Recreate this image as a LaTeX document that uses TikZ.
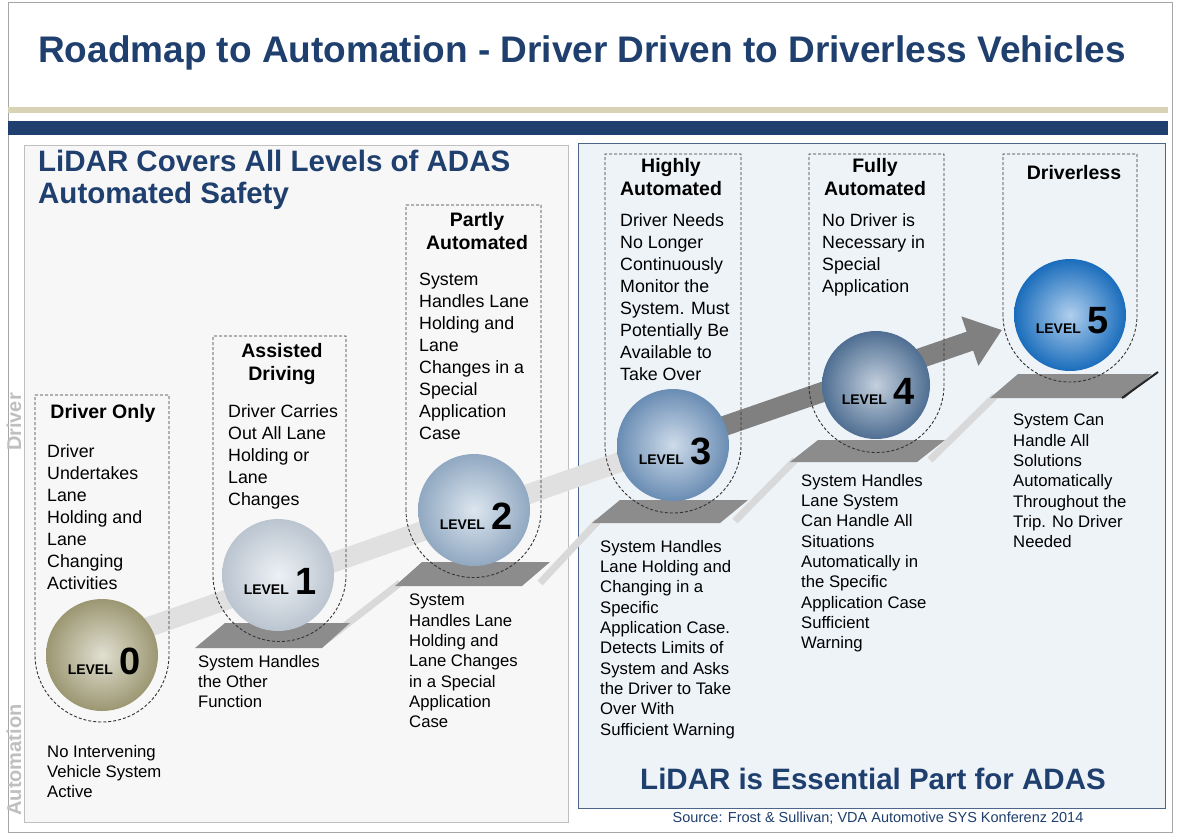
\documentclass[tikz,border=0pt]{standalone}
\usepackage{fontspec}
\setmainfont{Liberation Sans}
\usetikzlibrary{arrows.meta,shapes.geometric}
\definecolor{navy}{HTML}{1F3F6E}
\definecolor{tan}{HTML}{D8D3B5}
\definecolor{panelA}{HTML}{F7F7F7}
\definecolor{panelB}{HTML}{EEF3F8}
\definecolor{c0}{HTML}{A9A47C}
\definecolor{c1}{HTML}{CBD6E2}
\definecolor{c2}{HTML}{9DB7D2}
\definecolor{c3}{HTML}{7399C3}
\definecolor{c4}{HTML}{56789F}
\definecolor{c5}{HTML}{1C76CC}
\begin{document}
\begin{tikzpicture}[x=1pt,y=-1pt,
  ttl/.style={anchor=north,align=center,inner sep=0pt,font=\fontsize{19.5}{23}\selectfont\bfseries},
  txt/.style={anchor=north west,align=left,inner sep=0pt,font=\fontsize{17.8}{22}\selectfont},
  low/.style={anchor=north west,align=left,inner sep=0pt,font=\fontsize{16.7}{20.3}\selectfont},
  head/.style={anchor=north west,align=left,inner sep=0pt,text=navy,font=\fontsize{29.5}{32}\selectfont\bfseries},
  ball/.style={circle,minimum size=112pt,inner sep=0pt,draw=none,shading=radial,
    inner color=#1!35!white,outer color=#1!92!black},
  box/.style={draw=black!80,dash pattern=on 3pt off 2pt,line width=0.9pt},
  stair/.style={fill=black!45,draw=none},
  rise/.style={draw=black!15,line width=7pt}]
\useasboundingbox (0,0) rectangle (1177,836);
\fill[white] (0,0) rectangle (1177,836);
\draw[black!35,line width=1pt] (8,2) rectangle (1172,832);
\node[anchor=center,text=navy,font=\fontsize{37}{40}\selectfont\bfseries] (title) at (582,53) {Roadmap to Automation - Driver Driven to Driverless Vehicles};
\fill[tan] (8,107) rectangle (1168,113);
\fill[navy] (8,121) rectangle (1168,135);
% panels
\draw[fill=panelA,draw=black!25] (24,145) rectangle (568,822);
\draw[fill=panelB,draw=navy!80,line width=1pt] (578,143) rectangle (1165,808);
\node[head] (lhead) at (38,150) {LiDAR Covers All Levels of ADAS\\Automated Safety};
\node[text=navy,font=\fontsize{29.5}{30}\selectfont\bfseries] (rhead) at (873,779) {LiDAR is Essential Part for ADAS};
\node[text=navy,font=\fontsize{14.5}{15}\selectfont] (src) at (878,818) {Source: Frost \& Sullivan; VDA Automotive SYS Konferenz 2014};
\node[rotate=90,text=black!25,font=\fontsize{20}{20}\selectfont\bfseries] (drv) at (14,422) {Driver};
\node[rotate=90,text=black!25,font=\fontsize{20}{20}\selectfont\bfseries] (aut) at (14,760) {Automation};

% stairs
\draw[rise] (320,645) -- (400,583);
\draw[rise] (540,583) -- (598,521);
\draw[rise] (735,521) -- (795,460);
\draw[rise] (930,460) -- (995,396);
\fill[stair] (195,648) -- (225,623) -- (350,623) -- (322,648) -- cycle;
\fill[stair] (395,586) -- (422,562) -- (550,562) -- (522,586) -- cycle;
\fill[stair] (592,523) -- (620,500) -- (748,500) -- (720,523) -- cycle;
\fill[stair] (790,462) -- (818,440) -- (945,440) -- (917,462) -- cycle;
\fill[stair] (990,398) -- (1018,374) -- (1152,374) -- (1125,398) -- cycle;
\draw[black!85,line width=2pt] (1122,398) -- (1158,372);

% big arrow
\coordinate (a0) at (140,630);
\coordinate (a1) at (620,462);
\coordinate (a2) at (1002,330);
\draw[black!12,line width=20pt] (a0) -- (a1);
\draw[black!50,line width=20pt,-{Triangle[width=50pt,length=34pt]}] (a1) -- (a2);

% dashed frames
\draw[box] (35,655) -- (35,395) -- (169,395) -- (169,655) arc (0:180:67);
\draw[box] (213,575) -- (213,336) -- (346,336) -- (346,575) arc (0:180:66.5);
\draw[box] (406,510) -- (406,205) -- (541,205) -- (541,510) arc (0:180:67.5);
\draw[box] (605,445) -- (605,154) -- (741,154) -- (741,445) arc (0:180:68);
\draw[box] (809,385) -- (809,154) -- (944,154) -- (944,385) arc (0:180:67.5);
\draw[box] (1003,315) -- (1003,154) -- (1137,154) -- (1137,315) arc (0:180:67);

% spheres
\node[ball=c0] (l0) at (102,655) {};
\node[ball=c1] (l1) at (278,575) {};
\node[ball=c2] (l2) at (474,510) {};
\node[ball=c3] (l3) at (673,445) {};
\node[ball=c4,minimum size=108pt] (l4) at (876,385) {};
\node[ball=c5] (l5) at (1070,315) {};
\foreach \n in {0,...,5}
  \node[font=\bfseries] (n\n) at ([xshift=2pt,yshift=-6pt]l\n) {\fontsize{14}{14}\selectfont LEVEL\, \fontsize{38}{38}\selectfont\n};

% level texts
\node[ttl] (t0) at (103,404) {Driver Only};
\node[txt] (d0) at (47,444) {Driver\\Undertakes\\Lane\\Holding and\\Lane\\Changing\\Activities};
\node[low] (b0) at (47,745) {No Intervening\\Vehicle System\\Active};
\node[ttl] (t1) at (282,343) {Assisted\\Driving};
\node[txt] (d1) at (228,404) {Driver Carries\\Out All Lane\\Holding or\\Lane\\Changes};
\node[low] (b1) at (198,655) {System Handles\\the Other\\Function};
\node[ttl] (t2) at (477,212) {Partly\\Automated};
\node[txt] (d2) at (419,273) {System\\Handles Lane\\Holding and\\Lane\\Changes in a\\Special\\Application\\Case};
\node[low] (b2) at (409,594) {System\\Handles Lane\\Holding and\\Lane Changes\\in a Special\\Application\\Case};
\node[ttl] (t3) at (671,158) {Highly\\Automated};
\node[txt] (d3) at (620,213) {Driver Needs\\No Longer\\Continuously\\Monitor the\\System. Must\\Potentially Be\\Available to\\Take Over};
\node[low] (b3) at (600,540) {System Handles\\Lane Holding and\\Changing in a\\Specific\\Application Case.\\Detects Limits of\\System and Asks\\the Driver to Take\\Over With\\Sufficient Warning};
\node[ttl] (t4) at (875,158) {Fully\\Automated};
\node[txt] (d4) at (822,213) {No Driver is\\Necessary in\\Special\\Application};
\node[low] (b4) at (801,474) {System Handles\\Lane System\\Can Handle All\\Situations\\Automatically in\\the Specific\\Application Case\\Sufficient\\Warning};
\node[ttl] (t5) at (1074,165) {Driverless};
\node[low] (b5) at (1013,414) {System Can\\Handle All\\Solutions\\Automatically\\Throughout the\\Trip. No Driver\\Needed};
\end{tikzpicture}
\end{document}
